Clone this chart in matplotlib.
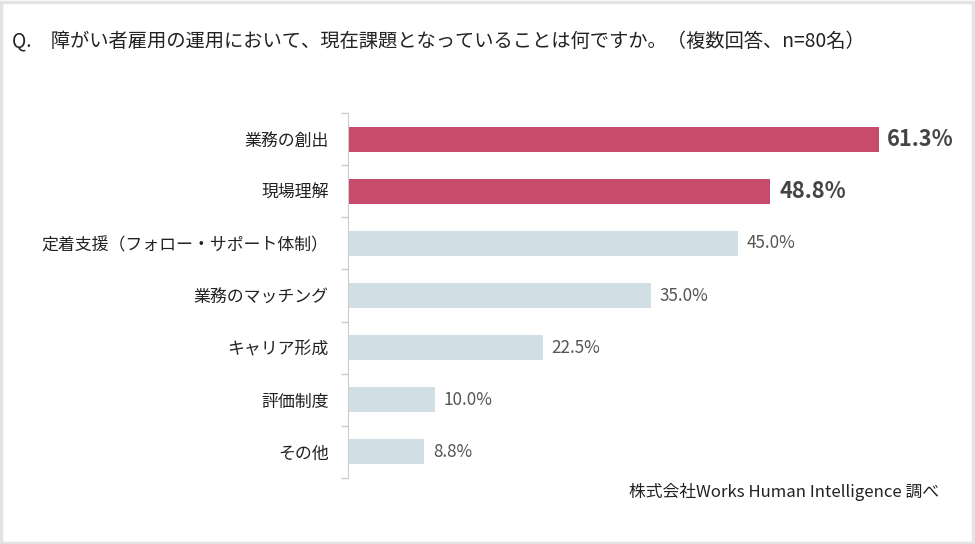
import matplotlib.pyplot as plt
from matplotlib.patches import Rectangle

plt.rcParams['font.family'] = ['Noto Sans CJK JP', 'DejaVu Sans']

# データ（複数回答、n=80名）
項目 = ["業務の創出", "現場理解", "定着支援（フォロー・サポート体制）",
       "業務のマッチング", "キャリア形成", "評価制度", "その他"]
割合 = [61.3, 48.8, 45.0, 35.0, 22.5, 10.0, 8.8]
強調 = [True, True, False, False, False, False, False]

色_強調 = "#C74B6A"
色_通常 = "#D2DEE5"

fig = plt.figure(figsize=(9.75, 5.44), dpi=100)
ax = fig.add_axes([0.3569, 0.1213, 0.6216, 0.671])

y = list(range(len(項目)))
colors = [色_強調 if h else 色_通常 for h in 強調]
ax.barh(y, 割合, height=0.48, color=colors)

for yi, v, h in zip(y, 割合, 強調):
    if h:
        ax.text(v + 1.0, yi, f"{v:.1f}%", va="center", ha="left",
                fontsize=15.7, fontweight="bold", color="#444444")
    else:
        ax.text(v + 1.0, yi, f"{v:.1f}%", va="center", ha="left",
                fontsize=12.3, color="#555555")

ax.set_xlim(0, 70)
ax.set_ylim(len(項目) - 0.5, -0.5)
ax.set_yticks(y)
ax.set_yticklabels(項目, fontsize=12.2, color="#222222")
ax.tick_params(axis="y", which="major", length=0, pad=14)
ax.set_yticks([i - 0.5 for i in range(len(項目) + 1)], minor=True)
ax.tick_params(axis="y", which="minor", length=5, color="#cccccc", width=1)
ax.set_xticks([])
for s in ["top", "right", "bottom"]:
    ax.spines[s].set_visible(False)
ax.spines["left"].set_color("#cccccc")

fig.text(0.012, 0.923, "Q.　障がい者雇用の運用において、現在課題となっていることは何ですか。（複数回答、n=80名）",
         fontsize=13.9, color="#222222", va="center", ha="left")
fig.text(0.963, 0.095, "株式会社Works Human Intelligence 調べ",
         fontsize=12.1, color="#222222", va="center", ha="right")

fig.patches.append(Rectangle((0.001, 0.002), 0.997, 0.995, transform=fig.transFigure,
                             fill=False, edgecolor="#e3e3e3", linewidth=2.5))

plt.savefig("out.png", dpi=100)
